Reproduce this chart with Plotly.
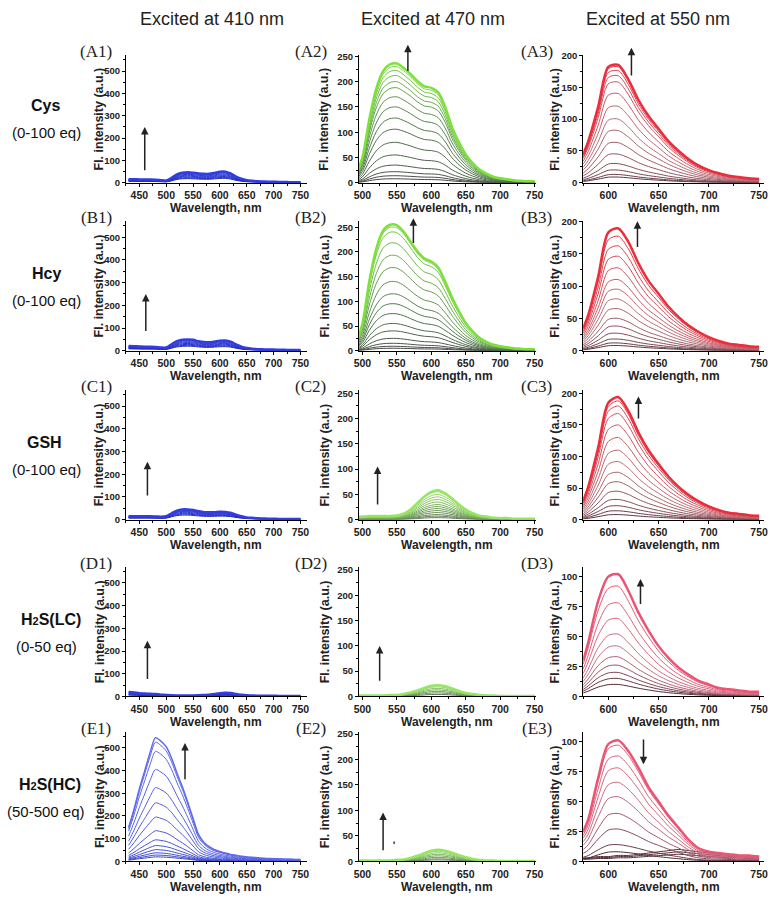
import plotly.graph_objects as go

W, H = 779, 899

# wavelength grids (nm) for the three excitation columns
wl_410 = list(range(430, 751, 10))
wl_470 = list(range(490, 751, 10))
wl_550 = [575] + list(range(580, 751, 10))

# outermost (highest) spectrum
top_A1 = [16, 16, 15, 15, 15, 14, 12, 10, 22, 38, 45, 47, 45, 42, 40, 40, 44, 49, 50, 42, 28, 18, 12, 9, 7, 6, 5, 5, 4, 4, 3, 3, 3]
top_B1 = [21, 20, 19, 18, 18, 17, 14, 14, 28, 42, 48, 50, 48, 42, 38, 37, 40, 44, 45, 40, 28, 18, 12, 9, 7, 6, 5, 5, 4, 4, 3, 3, 3]
top_C1 = [15, 15, 15, 15, 15, 14, 13, 15, 28, 40, 45, 45, 42, 37, 33, 32, 33, 35, 34, 30, 22, 15, 10, 8, 6, 5, 4, 4, 3, 3, 3, 3, 3]
top_D1 = [25, 22, 18, 16, 15, 13, 10, 8, 6, 5, 5, 5, 5, 6, 8, 10, 14, 18, 20, 19, 14, 9, 6, 5, 4, 4, 4, 4, 3, 3, 3, 3, 3]
top_E1 = [150, 230, 320, 400, 480, 545, 530, 505, 455, 390, 330, 262, 190, 120, 85, 65, 52, 44, 37, 31, 27, 23, 20, 18, 16, 14, 13, 12, 11, 10, 10, 9, 9]

top_A2 = [12, 50, 125, 185, 220, 233, 235, 226, 214, 200, 190, 187, 178, 150, 110, 80, 56, 39, 26, 18, 12, 9, 7, 5, 4, 3, 3]
top_B2 = [10, 55, 140, 205, 242, 254, 253, 240, 220, 200, 186, 180, 168, 140, 108, 80, 56, 39, 26, 18, 12, 9, 7, 5, 4, 3, 3]
top_C2 = [5, 6, 7, 7, 7, 7, 8, 12, 20, 33, 46, 55, 58, 52, 42, 30, 20, 13, 8, 6, 4, 3, 3, 2, 2, 2, 2]
top_D2 = [2, 2, 2, 2, 2, 3, 3, 5, 8, 12, 17, 21, 22, 20, 16, 11, 7, 5, 3, 2, 2, 1, 1, 1, 1, 1, 1]
top_E2 = [2, 2, 2, 2, 2, 2, 3, 4, 7, 11, 16, 21, 23, 21, 17, 12, 8, 5, 3, 2, 2, 1, 1, 1, 1, 1, 1]

top_A3 = [45, 65, 120, 182, 185, 162, 130, 105, 85, 65, 50, 37, 27, 20, 15, 11, 9, 7, 6]
top_B3 = [35, 55, 115, 183, 189, 168, 135, 108, 88, 68, 52, 39, 29, 21, 15, 11, 9, 7, 6]
top_C3 = [30, 52, 115, 185, 194, 172, 138, 110, 88, 68, 52, 39, 29, 21, 15, 11, 9, 7, 6]
top_D3 = [30, 45, 80, 100, 102, 88, 70, 55, 42, 32, 24, 18, 13, 10, 7, 6, 5, 4, 4]
top_E3 = [25, 35, 70, 98, 101, 92, 78, 62, 50, 38, 28, 18, 11, 8, 7, 6, 5, 5, 4]
low_E3 = [3, 3, 4, 4, 5, 5, 6, 7, 8, 9, 10, 9, 8, 7, 6, 5, 5, 4, 4]

# peak heights of the successive titration spectra in each panel
lev_A1 = [50, 47, 44, 40, 36, 32, 28, 24, 20]
lev_B1 = [50, 47, 44, 40, 36, 32, 28, 24, 20]
lev_C1 = [45, 42, 39, 36, 32, 28, 24, 20]
lev_D1 = [20, 17, 14, 11, 8, 6]
lev_E1 = [545, 525, 485, 405, 325, 258, 195, 135, 95, 70, 52, 38, 28, 20]
lev_A2 = [236, 230, 222, 212, 200, 188, 170, 150, 128, 106, 80, 55, 35, 22, 14, 8]
lev_B2 = [255, 250, 240, 218, 193, 168, 140, 115, 95, 75, 55, 40, 25, 15, 9, 5]
lev_C2 = [58, 55, 50, 45, 40, 35, 30, 26, 22, 18, 14, 10, 7, 4]
lev_D2 = [22, 19, 16, 13, 10, 7, 4]
lev_E2 = [23, 20, 17, 14, 11, 8, 5, 3]
lev_A3 = [185, 182, 176, 168, 158, 140, 120, 100, 82, 63, 45, 30, 20, 13, 9]
lev_B3 = [189, 177, 162, 146, 128, 110, 95, 80, 65, 50, 38, 27, 18, 12, 8]
lev_C3 = [194, 188, 180, 168, 150, 130, 110, 92, 75, 60, 45, 32, 22, 14, 8]
lev_D3 = [102, 92, 78, 65, 52, 42, 33, 26, 20, 15, 10]
lev_E3 = [101, 97, 88, 78, 66, 54, 40, 27, 14, 8]
lev_E3_low = [10, 8, 6]

col_titles = ["Excited at 410 nm", "Excited at 470 nm", "Excited at 550 nm"]
row_names = ["Cys", "Hcy", "GSH", "H<span style='font-size:11px'>2</span>S(LC)", "H<span style='font-size:11px'>2</span>S(HC)"]
row_eq = ["(0-100 eq)", "(0-100 eq)", "(0-100 eq)", "(0-50 eq)", "(50-500 eq)"]
letters = ["A", "B", "C", "D", "E"]

# arrows: (x, tail, head) per panel
arrows = {
    (0, 0): (460, 50, 250), (1, 0): (462, 80, 250), (2, 0): (465, 100, 255),
    (3, 0): (465, 70, 245), (4, 0): (535, 355, 522),
    (0, 1): (566, 218, 273), (1, 1): (574, 215, 268), (2, 1): (522, 27, 105),
    (3, 1): (525, 28, 100), (4, 1): (530, 19, 96),
    (0, 2): (623, 166, 212), (1, 2): (629, 158, 200), (2, 2): (630, 158, 195),
    (3, 2): (632, 76, 98), (4, 2): (635, 103, 81),
}

panels = {
    (0, 0): (wl_410, top_A1, lev_A1), (1, 0): (wl_410, top_B1, lev_B1),
    (2, 0): (wl_410, top_C1, lev_C1), (3, 0): (wl_410, top_D1, lev_D1),
    (4, 0): (wl_410, top_E1, lev_E1),
    (0, 1): (wl_470, top_A2, lev_A2), (1, 1): (wl_470, top_B2, lev_B2),
    (2, 1): (wl_470, top_C2, lev_C2), (3, 1): (wl_470, top_D2, lev_D2),
    (4, 1): (wl_470, top_E2, lev_E2),
    (0, 2): (wl_550, top_A3, lev_A3), (1, 2): (wl_550, top_B3, lev_B3),
    (2, 2): (wl_550, top_C3, lev_C3), (3, 2): (wl_550, top_D3, lev_D3),
    (4, 2): (wl_550, top_E3, lev_E3),
}

# color ramps, low -> high
ramps = {
    0: [(30, 40, 190), (50, 60, 225)],
    1: [(70, 70, 70), (85, 125, 80), (125, 225, 60)],
    2: [(90, 50, 60), (185, 110, 120), (235, 45, 60)],
}
ramp_E1 = [(60, 70, 200), (95, 105, 235)]
ramp_green_small = [(95, 120, 85), (150, 230, 100)]
ramp_pink = [(80, 40, 50), (200, 110, 130), (235, 85, 115)]


def ramp_color(stops, t):
    n = len(stops) - 1
    pos = min(t * n, n - 1e-9)
    i = int(pos)
    f = pos - i
    a, b = stops[i], stops[i + 1]
    c = [round(a[k] + (b[k] - a[k]) * f) for k in range(3)]
    return "rgb(%d,%d,%d)" % tuple(c)


def note(text, x, y, size, family="Liberation Sans, Arial", angle=0, color="#222"):
    # centred text annotation at pixel position (x, y)
    return dict(text=text, x=x / W, y=1 - y / H, xref="paper", yref="paper",
                xanchor="center", yanchor="middle", showarrow=False, textangle=angle,
                font=dict(family=family, size=size, color=color))


# layout geometry in pixels
col_x = [(123, 307), (360, 540), (588, 772)]
row_y = [(50, 179), (218, 349), (389, 520), (568, 699), (735, 866)]
x_ranges = [[425, 762], [495, 752], [575, 755]]
x_ticks = [list(range(450, 751, 50)), list(range(500, 751, 50)), list(range(600, 751, 50))]
y_ranges = {
    0: [[0, 570]] * 5,
    1: [[0, 252], [0, 262], [0, 256], [0, 256], [0, 254]],
    2: [[0, 200], [0, 200], [0, 205], [0, 108], [0, 108]],
}
y_ticks = {
    0: [list(range(0, 501, 100))] * 5,
    1: [list(range(0, 251, 50))] * 5,
    2: [list(range(0, 201, 50))] * 3 + [list(range(0, 101, 25))] * 2,
}
y_minor = {0: [50] * 5, 1: [25] * 5, 2: [25, 25, 25, 12.5, 12.5]}

fig = go.Figure()
layout = dict(width=W, height=H, margin=dict(l=0, r=0, t=0, b=0),
              paper_bgcolor="white", plot_bgcolor="white", showlegend=False)
annotations = []
sans = "Liberation Sans, Arial"
serif = "Liberation Serif, Times New Roman"
xtickfont = dict(family=sans, size=10.5, color="#222", weight="bold")
ytickfont = dict(family=sans, size=9.5, color="#222", weight="bold")

k = 0
for r in range(5):
    for c in range(3):
        k += 1
        xa = "x" if k == 1 else "x%d" % k
        ya = "y" if k == 1 else "y%d" % k
        wl, top, levs = panels[(r, c)]
        peak = max(top)
        if c == 0:
            stops = ramp_E1 if r == 4 else ramps[0]
        elif c == 1:
            stops = ramps[1] if r < 2 else ramp_green_small
        else:
            stops = ramps[2] if r < 3 else ramp_pink

        curves = []
        if (r, c) == (4, 2):
            lp = max(low_E3)
            for lv in lev_E3_low:
                curves.append(([v * lv / lp for v in low_E3], 0.0))
        n = len(levs)
        for i, lv in enumerate(sorted(levs)):
            curves.append(([v * lv / peak for v in top], i / (n - 1)))
        top_w = 1.4 if (r, c) == (4, 0) else 2.5
        for j, (ys, t) in enumerate(curves):
            is_top = j == len(curves) - 1
            fig.add_trace(go.Scatter(
                x=wl, y=ys, mode="lines", xaxis=xa, yaxis=ya,
                line=dict(color=ramp_color(stops, t), width=top_w if is_top else 1, shape="spline", smoothing=0.8),
                hoverinfo="skip"))

        x0, x1 = col_x[c]
        yt, yb = row_y[r]
        layout["xaxis" if k == 1 else "xaxis%d" % k] = dict(
            domain=[x0 / W, x1 / W], range=x_ranges[c], anchor=ya,
            showline=True, linecolor="black", linewidth=1, showgrid=False, zeroline=False,
            ticks="outside", ticklen=3, tickcolor="black", tickvals=x_ticks[c], tickfont=xtickfont,
            minor=dict(ticks="outside", ticklen=2, dtick=25, tickcolor="black", showgrid=False))
        layout["yaxis" if k == 1 else "yaxis%d" % k] = dict(
            domain=[1 - yb / H, 1 - yt / H], range=y_ranges[c][r], anchor=xa,
            showline=True, linecolor="black", linewidth=1, showgrid=False, zeroline=False,
            ticks="outside", ticklen=3, tickcolor="black", tickvals=y_ticks[c][r], tickfont=ytickfont,
            minor=dict(ticks="outside", ticklen=2, dtick=y_minor[c][r], tickcolor="black", showgrid=False))

        # axis titles
        annotations.append(note("<b>Wavelength, nm</b>", (x0 + x1) / 2, yb + 26, 12))
        annotations.append(note("<b>Fl. intensity (a.u.)</b>", [96, 325, 559][c], (yt + yb) / 2, 12.5, angle=-90))
        # panel label
        annotations.append(note("(%s%d)" % (letters[r], c + 1), [93, 311, 541][c], yt - 4, 17, family=serif))
        # arrow
        ax_, tail, head = arrows[(r, c)]
        annotations.append(dict(x=ax_, y=head, ax=ax_, ay=tail, xref=xa, yref=ya, axref=xa, ayref=ya,
                                showarrow=True, arrowhead=2, arrowsize=1, arrowwidth=1.5,
                                arrowcolor="#222", text=""))

# tiny marker arrow in E2
annotations.append(dict(x=546, y=33, ax=546, ay=43, xref="x14", yref="y14", axref="x14", ayref="y14",
                        showarrow=True, arrowhead=2, arrowsize=0.6, arrowwidth=0.8, arrowcolor="#444", text=""))

for c, t in enumerate(col_titles):
    annotations.append(note(t, [211, 435, 664][c], 13, 18))

for r in range(5):
    yb = row_y[r][1]
    annotations.append(note("<b>%s</b>" % row_names[r], [41, 42, 40, 47, 46][r], yb - 78, 16, color="#111"))
    annotations.append(note(row_eq[r], 42, yb - 51, 15, color="#111"))

layout["annotations"] = annotations
fig.update_layout(**layout)
fig.write_html("out.html", config={"displayModeBar": False},
               post_script="document.body.style.margin='0';")
